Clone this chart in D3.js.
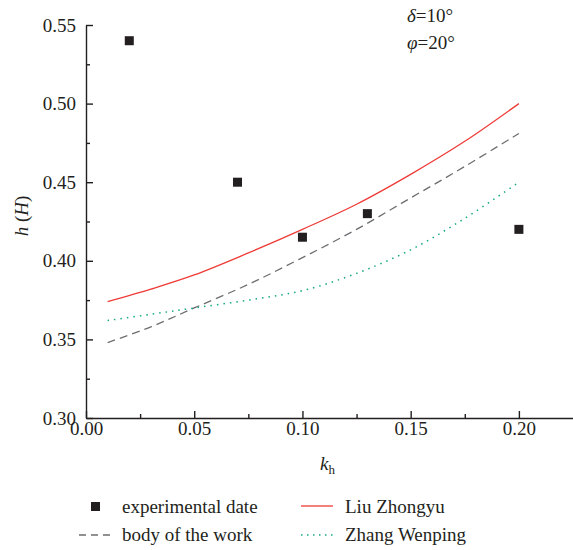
<!DOCTYPE html>
<html>
<head>
<meta charset="utf-8">
<script src="https://cdn.jsdelivr.net/npm/d3@7"></script>
<style>
  body { margin: 0; background: #fff; }
  svg text { font-family: "Liberation Serif", "DejaVu Serif", serif; fill: #231f20; }
</style>
</head>
<body>
<svg id="chart" width="573" height="550"></svg>
<script>
// data
const kh = [0.01, 0.03, 0.05, 0.075, 0.10, 0.125, 0.15, 0.175, 0.20];
const liuZhongyu = [0.374, 0.382, 0.391, 0.405, 0.420, 0.436, 0.455, 0.476, 0.500];
const bodyOfWork = [0.348, 0.358, 0.370, 0.385, 0.402, 0.420, 0.440, 0.460, 0.481];
const zhangWenping = [0.362, 0.366, 0.370, 0.375, 0.381, 0.392, 0.407, 0.427, 0.450];

const expK = [0.02, 0.07, 0.10, 0.13, 0.20];
const expH = [0.54, 0.45, 0.415, 0.43, 0.42];

const xTicks = [0, 0.05, 0.10, 0.15, 0.20];
const yTicks = [0.30, 0.35, 0.40, 0.45, 0.50, 0.55];

const FONT = '"Liberation Serif", "DejaVu Serif", serif';

const svg = d3.select('#chart');

const x = d3.scaleLinear([0, 0.225], [86, 573]);
const y = d3.scaleLinear([0.30, 0.55], [418, 25]);

// minor ticks
svg.append('g')
    .attr('transform', 'translate(0,418)')
    .call(d3.axisBottom(x).tickValues(d3.range(0.025, 0.225, 0.05)).tickSize(-4).tickFormat(''))
    .call(g => g.select('.domain').remove());
svg.append('g')
    .attr('transform', 'translate(86,0)')
    .call(d3.axisLeft(y).tickValues(d3.range(0.325, 0.55, 0.05)).tickSize(-4).tickFormat(''))
    .call(g => g.select('.domain').remove());

const xAxis = svg.append('g')
    .attr('transform', 'translate(0,418)')
    .call(d3.axisBottom(x).tickValues(xTicks).tickSize(-7).tickPadding(3)
        .tickSizeOuter(0).tickFormat(d3.format('.2f')));
const yAxis = svg.append('g')
    .attr('transform', 'translate(86,0)')
    .call(d3.axisLeft(y).tickValues(yTicks).tickSize(-7).tickPadding(10)
        .tickSizeOuter(0).tickFormat(d3.format('.2f')));

svg.selectAll('.tick line, .domain').attr('stroke', '#231f20').attr('stroke-width', 1.4);
svg.selectAll('.tick text')
    .style('font-family', FONT)
    .style('font-size', '19px')
    .attr('fill', '#231f20');

// curves
const line = vals => d3.line()
    .x((d, i) => x(kh[i]))
    .y(d => y(d))
    .curve(d3.curveCatmullRom.alpha(0.5))(vals);

svg.append('path').attr('d', line(liuZhongyu))
    .attr('fill', 'none').attr('stroke', '#ee3b36').attr('stroke-width', 1.3);
svg.append('path').attr('d', line(bodyOfWork))
    .attr('fill', 'none').attr('stroke', '#6d6e71').attr('stroke-width', 1.3)
    .attr('stroke-dasharray', '8,5');
svg.append('path').attr('d', line(zhangWenping))
    .attr('fill', 'none').attr('stroke', '#14a884').attr('stroke-width', 1.5)
    .attr('stroke-dasharray', '1.5,5');

// experimental points
svg.selectAll('rect.exp')
    .data(expK)
    .enter()
    .append('rect')
    .attr('class', 'exp')
    .attr('x', d => x(d) - 4.5)
    .attr('y', (d, i) => y(expH[i]) - 4.5)
    .attr('width', 9)
    .attr('height', 9)
    .attr('fill', '#231f20');

// annotations
svg.append('text').attr('x', 407).attr('y', 22).attr('font-size', 19)
    .html('<tspan font-style="italic">δ</tspan>=10°');
svg.append('text').attr('x', 407).attr('y', 49).attr('font-size', 19)
    .html('<tspan font-style="italic">φ</tspan>=20°');

// axis titles
svg.append('text').attr('x', 320).attr('y', 470).attr('font-size', 19)
    .html('<tspan font-style="italic">k</tspan><tspan font-size="13" dy="4">h</tspan>');
svg.append('text')
    .attr('transform', 'translate(28,216) rotate(-90)')
    .attr('text-anchor', 'middle').attr('font-size', 19)
    .html('<tspan font-style="italic">h</tspan> (<tspan font-style="italic">H</tspan>)');

// legend
const legend = svg.append('g');
legend.append('rect').attr('x', 91).attr('y', 502).attr('width', 9).attr('height', 9).attr('fill', '#231f20');
legend.append('line').attr('x1', 301).attr('x2', 333).attr('y1', 506).attr('y2', 506)
    .attr('stroke', '#ee3b36').attr('stroke-width', 1.3);
legend.append('line').attr('x1', 79).attr('x2', 111).attr('y1', 535).attr('y2', 535)
    .attr('stroke', '#6d6e71').attr('stroke-width', 1.3).attr('stroke-dasharray', '7,5');
legend.append('line').attr('x1', 301).attr('x2', 333).attr('y1', 535).attr('y2', 535)
    .attr('stroke', '#14a884').attr('stroke-width', 1.5).attr('stroke-dasharray', '1.5,4.5');
const legendText = [
    ['experimental date', 122, 513],
    ['body of the work', 122, 541],
    ['Liu Zhongyu', 345, 513],
    ['Zhang Wenping', 345, 541]
];
legend.selectAll('text')
    .data(legendText)
    .enter()
    .append('text')
    .attr('x', d => d[1])
    .attr('y', d => d[2])
    .attr('font-size', 19)
    .text(d => d[0]);
</script>
</body>
</html>
